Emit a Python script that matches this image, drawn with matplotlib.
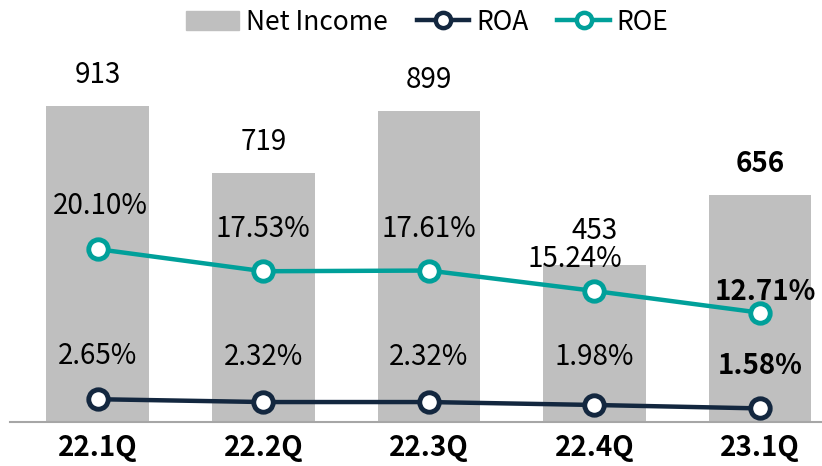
import numpy as np
import matplotlib.pyplot as plt
from matplotlib.lines import Line2D
from matplotlib.patches import Patch

quarters = ["22.1Q", "22.2Q", "22.3Q", "22.4Q", "23.1Q"]
net_income = [913, 719, 899, 453, 656]
roa = [2.65, 2.32, 2.32, 1.98, 1.58]
roe = [20.10, 17.53, 17.61, 15.24, 12.71]

bar_color = "#BFBFBF"
roa_color = "#13273F"
roe_color = "#00A09A"
fs = 20

plt.rcParams['font.family'] = ['Noto Sans CJK KR', 'DejaVu Sans']

fig = plt.figure(figsize=(8.22, 4.66), dpi=100)
ax = fig.add_axes([10 / 822, 44 / 466, 812 / 822, 422 / 466])
x = np.arange(len(quarters))

ax.bar(x, net_income, width=0.62, color=bar_color, zorder=1)
ax.set_xlim(-0.53, 4.375)
ax.set_ylim(0, 1219)
for s in ["top", "right", "left"]:
    ax.spines[s].set_visible(False)
ax.spines["bottom"].set_color("#A6A6A6")
ax.spines["bottom"].set_linewidth(1.5)
ax.set_yticks([])
ax.set_xticks(x)
ax.set_xticklabels(quarters, fontsize=fs, fontweight="bold")
ax.tick_params(axis="x", length=0, pad=9)

ax2 = ax.twinx()
ax2.set_ylim(0, 49.07)
ax2.set_yticks([])
for s in ax2.spines.values():
    s.set_visible(False)
ax2.plot(x, roa, color=roa_color, lw=3.2, marker="o", ms=14,
         mfc="white", mec=roa_color, mew=3.5, zorder=3)
ax2.plot(x, roe, color=roe_color, lw=3.2, marker="o", ms=14,
         mfc="white", mec=roe_color, mew=3.5, zorder=3)

# value labels (offsets in pixels)
bar_off = [31, 31, 31, 34, 31]
for i, v in enumerate(net_income):
    bold = i == len(net_income) - 1
    ax.annotate(str(v), (x[i], v), xytext=(0, bar_off[i]), textcoords="offset pixels",
                ha="center", va="center", fontsize=fs,
                fontweight="bold" if bold else "normal")

roe_off = [(3, 43), (0, 42), (0, 42), (-20, 32), (6, 21)]
for i, v in enumerate(roe):
    bold = i == len(roe) - 1
    ax2.annotate(f"{v:.2f}%", (x[i], v), xytext=roe_off[i], textcoords="offset pixels",
                 ha="center", va="center", fontsize=fs,
                 fontweight="bold" if bold else "normal")

roa_off = [(0, 43), (0, 45), (0, 45), (0, 48), (0, 42)]
for i, v in enumerate(roa):
    bold = i == len(roa) - 1
    ax2.annotate(f"{v:.2f}%", (x[i], v), xytext=roa_off[i], textcoords="offset pixels",
                 ha="center", va="center", fontsize=fs,
                 fontweight="bold" if bold else "normal")

handles = [
    Patch(color=bar_color, label="Net Income"),
    Line2D([], [], color=roa_color, lw=3.2, marker="o", ms=11, mfc="white",
           mec=roa_color, mew=3.2, label="ROA"),
    Line2D([], [], color=roe_color, lw=3.2, marker="o", ms=11, mfc="white",
           mec=roe_color, mew=3.2, label="ROE"),
]
fig.legend(handles=handles, loc="center", bbox_to_anchor=(0.52, 1 - 22 / 466),
           ncol=3, frameon=False, fontsize=19, handlelength=2.0,
           handletextpad=0.25, columnspacing=1.1, borderpad=0)

fig.savefig("out.png", dpi=100)
